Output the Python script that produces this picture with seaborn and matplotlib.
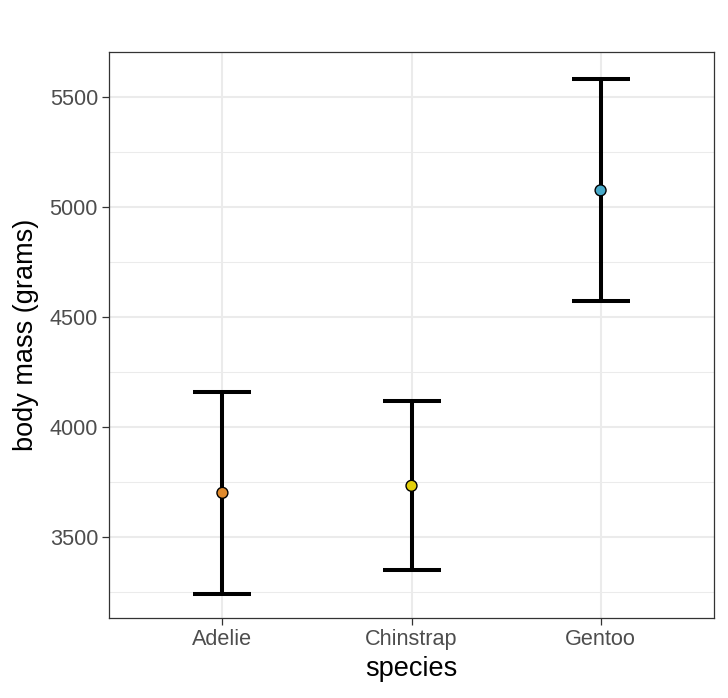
import numpy as np
import pandas as pd
import matplotlib
matplotlib.use("Agg")
import matplotlib.pyplot as plt
import seaborn as sns
from matplotlib.ticker import MultipleLocator

# valori (media e barre di errore)
specie = ["Adelie", "Chinstrap", "Gentoo"]
media = [3701, 3733, 5076]
inferiore = [3242, 3349, 4572]
superiore = [4159, 4117, 5580]
colori = ["#E08A2D", "#E3CF0A", "#47A9C9"]

df = pd.DataFrame(
    {"species": specie, "mean": media, "lower": inferiore, "upper": superiore}
)

sns.set_theme(style="whitegrid")
plt.rcParams["font.family"] = ["Liberation Sans", "DejaVu Sans"]

fig = plt.figure(figsize=(7.28, 6.98), dpi=100)
ax = fig.add_axes([0.1497, 0.1146, 0.8311, 0.8109])

# barre di errore
ax.errorbar(
    df["species"],
    df["mean"],
    yerr=[df["mean"] - df["lower"], df["upper"] - df["mean"]],
    fmt="none",
    ecolor="black",
    elinewidth=2.9,
    capsize=21,
    capthick=2.9,
    zorder=2,
)

# punti medi
sns.scatterplot(
    data=df,
    x="species",
    y="mean",
    hue="species",
    palette=colori,
    s=62,
    edgecolor="black",
    linewidth=1.0,
    legend=False,
    zorder=3,
    ax=ax,
)

ax.set_xlim(-0.6, 2.6)
ax.set_ylim(3132, 5705)
ax.yaxis.set_major_locator(MultipleLocator(500))
ax.yaxis.set_minor_locator(MultipleLocator(250))

ax.set_facecolor("white")
ax.grid(which="major", color="#EBEBEB", linewidth=1.5)
ax.grid(which="minor", axis="y", color="#EBEBEB", linewidth=0.75)
ax.set_axisbelow(True)
for lato in ax.spines.values():
    lato.set_color("#333333")
    lato.set_linewidth(0.9)

ax.tick_params(
    axis="both",
    which="major",
    length=4.9,
    width=0.9,
    color="#333333",
    labelsize=15.6,
    labelcolor="#4D4D4D",
    pad=3,
    left=True,
    bottom=True,
)
ax.tick_params(axis="y", which="minor", length=0)

ax.set_xlabel("species", fontsize=19.5, color="black", labelpad=4)
ax.set_ylabel("body mass (grams)", fontsize=19.5, color="black", labelpad=8)

fig.savefig("out.png", dpi=100, facecolor="white")
